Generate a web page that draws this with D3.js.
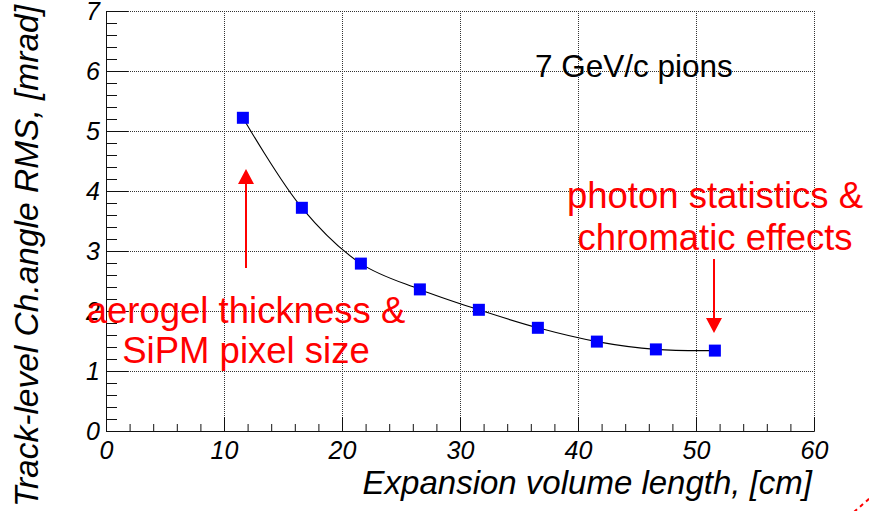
<!DOCTYPE html>
<html>
<head>
<meta charset="utf-8">
<script src="https://cdn.jsdelivr.net/npm/d3@7"></script>
<style>
  body { margin: 0; background: #fff; }
  svg { display: block; font-family: "Liberation Sans", Arial, Helvetica, sans-serif; }
</style>
</head>
<body>
<div id="chart"></div>
<script>
// data

var lengths = [11.6, 16.6, 21.6, 26.6, 31.6, 36.6, 41.6, 46.6, 51.6],
    rms = [5.22, 3.72, 2.79, 2.36, 2.02, 1.72, 1.49, 1.36, 1.34];

var xTicks = [0, 10, 20, 30, 40, 50, 60],
    yTicks = [0, 1, 2, 3, 4, 5, 6, 7];

var xTitle = "Expansion volume length, [cm]",
    yTitle = "Track-level Ch.angle RMS, [mrad]";

// layout below

var outerWidth = 869,
    outerHeight = 511,
    margin = { top: 11, right: 55, bottom: 80, left: 106 },
    width = outerWidth - margin.left - margin.right,
    height = outerHeight - margin.top - margin.bottom;

var x = d3.scaleLinear()
    .domain([0, 60])
    .range([0, width]);

var y = d3.scaleLinear()
    .domain([0, 7])
    .range([height, 0]);

var svg = d3.select("#chart")
    .append("svg")
    .attr("width", outerWidth)
    .attr("height", outerHeight);

var g = svg.append("g")
    .attr("transform", "translate(" + margin.left + "," + margin.top + ")");

// dotted grid (also makes the top and right frame)
g.append("g")
    .selectAll("line")
    .data(xTicks.slice(1))
    .enter()
    .append("line")
    .attr("x1", function(d) { return x(d) + 0.5; })
    .attr("x2", function(d) { return x(d) + 0.5; })
    .attr("y1", 0)
    .attr("y2", height)
    .style("stroke", "#333")
    .style("stroke-dasharray", "1,1");

g.append("g")
    .selectAll("line")
    .data(yTicks.slice(1))
    .enter()
    .append("line")
    .attr("x1", 0)
    .attr("x2", width)
    .attr("y1", function(d) { return y(d) + 0.5; })
    .attr("y2", function(d) { return y(d) + 0.5; })
    .style("stroke", "#333")
    .style("stroke-dasharray", "1,1");

// axes, ticks pointing inward like ROOT
var xMinor = d3.range(0, 60.01, 2);
var yMinor = d3.range(0, 7.01, 0.2);

g.append("g")
    .attr("transform", "translate(0," + height + ")")
    .call(d3.axisBottom(x).tickValues(xMinor).tickSize(-7).tickSizeOuter(0).tickFormat(""));

var gX = g.append("g")
    .attr("transform", "translate(0," + height + ")")
    .call(d3.axisBottom(x).tickValues(xTicks).tickSize(-14).tickSizeOuter(0)
        .tickPadding(10).tickFormat(d3.format("d")));

g.append("g")
    .call(d3.axisLeft(y).tickValues(yMinor).tickSize(-11).tickSizeOuter(0).tickFormat(""));

var gY = g.append("g")
    .call(d3.axisLeft(y).tickValues(yTicks).tickSize(-22).tickSizeOuter(0)
        .tickPadding(6).tickFormat(d3.format("d")));

g.selectAll(".domain, .tick line").style("stroke", "#111");

gX.selectAll("text")
    .style("font-size", "25px")
    .style("font-style", "italic")
    .attr("fill", "#000");

gY.selectAll("text")
    .style("font-size", "25px")
    .style("font-style", "italic")
    .attr("fill", "#000");

// axis titles
svg.append("text")
    .attr("x", 812)
    .attr("y", 494)
    .style("text-anchor", "end")
    .style("font-size", "33px")
    .style("font-style", "italic")
    .text(xTitle);

svg.append("text")
    .attr("transform", "translate(38,5) rotate(-90)")
    .style("text-anchor", "end")
    .style("font-size", "33.5px")
    .style("font-style", "italic")
    .text(yTitle);

// smooth curve and markers
var points = lengths.map(function(d, i) { return { x: d, y: rms[i] }; });

var line = d3.line()
    .x(function(d) { return x(d.x); })
    .y(function(d) { return y(d.y); })
    .curve(d3.curveCatmullRom);

g.append("path")
    .datum(points)
    .attr("d", line)
    .style("fill", "none")
    .style("stroke", "#000")
    .style("stroke-width", 1.1);

var ms = 12;
g.selectAll(".dot")
    .data(points)
    .enter()
    .append("rect")
    .classed("dot", true)
    .attr("x", function(d) { return x(d.x) - ms / 2; })
    .attr("y", function(d) { return y(d.y) - ms / 2; })
    .attr("width", ms)
    .attr("height", ms)
    .style("fill", "#0000ff");

// annotations
svg.append("text")
    .attr("x", 535)
    .attr("y", 77)
    .style("font-size", "31.5px")
    .text("7 GeV/c pions");

var red = "#ff0000";

function arrow(xp, yFrom, yTip) {
    var dir = yTip < yFrom ? 1 : -1;
    var base = yTip + dir * 15;
    svg.append("line")
        .attr("x1", xp).attr("x2", xp)
        .attr("y1", yFrom).attr("y2", base)
        .style("stroke", red)
        .style("stroke-width", 2);
    svg.append("path")
        .attr("d", "M" + (xp - 8) + "," + base + "L" + xp + "," + yTip + "L" + (xp + 8) + "," + base + "Z")
        .style("fill", red);
}

arrow(246, 268, 169);
arrow(714, 259, 333);

var leftNote = ["aerogel thickness &", "SiPM pixel size"],
    rightNote = ["photon statistics &", "chromatic effects"];

svg.selectAll(".lnote")
    .data(leftNote)
    .enter()
    .append("text")
    .attr("x", 246)
    .attr("y", function(d, i) { return 323 + i * 40; })
    .style("text-anchor", "middle")
    .style("font-size", "36.5px")
    .style("fill", red)
    .text(function(d) { return d; });

svg.selectAll(".rnote")
    .data(rightNote)
    .enter()
    .append("text")
    .attr("x", 715)
    .attr("y", function(d, i) { return 208 + i * 42; })
    .style("text-anchor", "middle")
    .style("font-size", "36.5px")
    .style("fill", red)
    .text(function(d) { return d; });

// clipped red dashed stroke in the corner
svg.append("line")
    .attr("x1", 854).attr("y1", 512)
    .attr("x2", 870).attr("y2", 498)
    .style("stroke", red)
    .style("stroke-width", 2)
    .style("stroke-dasharray", "4,4");
</script>
</body>
</html>
